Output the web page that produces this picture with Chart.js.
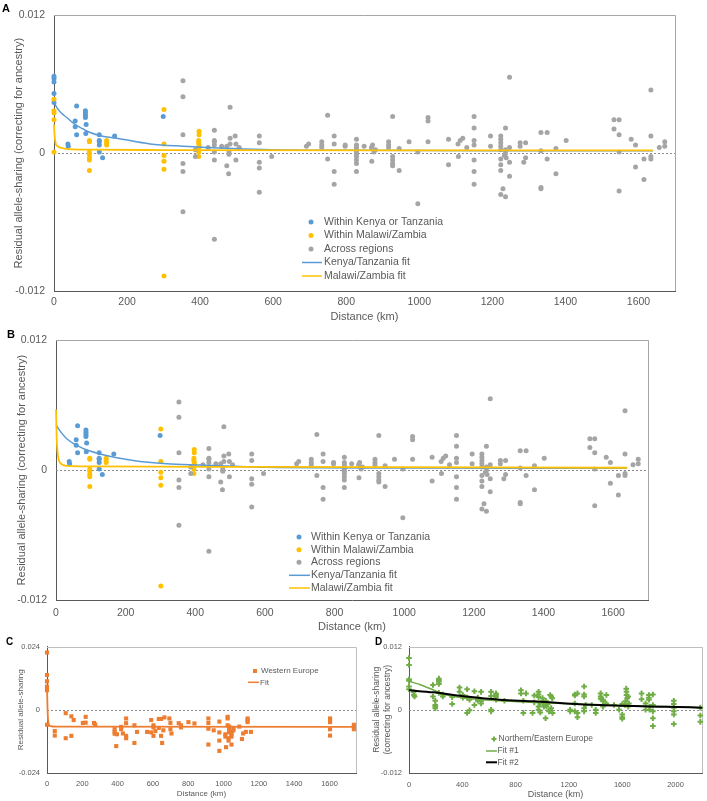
<!DOCTYPE html>
<html>
<head>
<meta charset="utf-8">
<script src="https://cdn.jsdelivr.net/npm/chart.js@4.4.1/dist/chart.umd.min.js"></script>
<style>
html,body{margin:0;padding:0;background:#fff;}
#wrap{position:relative;width:707px;height:801px;overflow:hidden;background:#fff;font-family:"Liberation Sans",Arial,sans-serif;}
canvas{position:absolute;}
.lbl{position:absolute;font-weight:bold;color:#000;line-height:1;}
</style>
</head>
<body>
<div id="wrap">
  <canvas id="cA" width="707" height="325" style="left:0;top:0"></canvas>
  <canvas id="cB" width="707" height="310" style="left:0;top:325px"></canvas>
  <canvas id="cC" width="360" height="166" style="left:0;top:635px"></canvas>
  <canvas id="cD" width="347" height="166" style="left:360px;top:635px"></canvas>
  <div class="lbl" style="left:2px;top:3px;font-size:11px">A</div>
  <div class="lbl" style="left:7px;top:329px;font-size:11px">B</div>
  <div class="lbl" style="left:6px;top:637px;font-size:10px">C</div>
  <div class="lbl" style="left:375px;top:637px;font-size:10px">D</div>
</div>
<script>
// ---------------- tick labels ----------------
const xTicksAB = [0, 200, 400, 600, 800, 1000, 1200, 1400, 1600];
const yTicksAB = [-0.012, 0, 0.012];
const xTicksC = [0, 200, 400, 600, 800, 1000, 1200, 1400, 1600];
const yTicksC = [-0.024, 0, 0.024];
const xTicksD = [0, 400, 800, 1200, 1600, 2000];
const yTicksD = [-0.012, 0, 0.012];

// ---------------- panels A/B: Africa ----------------
const kenyaTanzania = [
  [0,0.0067],[0,0.0065],[0,0.0062],[0,0.0052],[0,0.0044],
  [38,0.0008],[39,0.0006],[58,0.0028],[58,0.0023],[62,0.0016],[62,0.0041],
  [86,0.0037],[86,0.0035],[86,0.0033],[86,0.0031],[88,0.0025],[87,0.0017],
  [124,0.0016],[124,0.0011],[124,0.0010],[124,0.0007],[124,0.0001],[133,-0.0004],
  [166,0.0015],[299,0.0032]
];
const malawiZambia = [
  [0,0.0047],[0,0.0037],[0,0.0035],[0,0.0029],[0,0.0001],
  [97,0.0011],[97,0.0010],[97,0.0001],[97,-0.0001],[97,-0.0004],[97,-0.0006],[97,-0.0015],
  [144,0.0011],[144,0.0009],[144,0.0007],
  [301,0.0038],[301,0.0008],[301,-0.0002],[301,-0.0007],[301,-0.0014],[301,-0.0107],
  [397,0.0019],[397,0.0016],[396,0.0011],[396,0.0009],[397,0.0007],[397,0.0005],[396,0.0001],[396,-0.0003]
];
const acrossRegions = [
  [353,0.0063],[353,0.0049],[353,0.0016],[353,-0.0009],[353,-0.0016],[353,-0.0051],
  [387,0.0003],[387,-0.0003],[422,0.0005],
  [439,0.0020],[439,0.0011],[439,0.0010],[439,0.0007],[439,0.0001],[439,-0.0006],[439,-0.0075],
  [459,0.0006],[473,0.0006],[473,-0.0011],[479,0.0001],[479,-0.0001],
  [482,0.0040],[482,0.0013],[482,0.0008],[478,-0.0018],
  [496,0.0015],[498,0.0008],[498,-0.0006],[507,0.0005],
  [562,0.0015],[562,0.0009],[562,-0.0008],[562,-0.0013],[562,-0.0034],
  [596,-0.0003],[691,0.0006],[697,0.0008],
  [733,0.0010],[733,0.0007],[733,0.0005],[749,0.0033],[749,-0.0005],
  [767,0.0015],[767,0.0008],[767,-0.0016],[767,-0.0027],
  [797,0.0007],[797,0.0006],
  [828,0.0012],[828,0.0007],[828,0.0005],[828,0.0003],[828,0.0001],[828,-0.0001],[828,-0.0003],[828,-0.0006],[828,-0.0009],[828,-0.0016],
  [849,0.0006],[869,0.0005],[872,0.0007],[876,0.0001],[880,0.0003],[870,-0.0007],
  [916,0.0010],[916,0.0007],[916,0.0005],
  [927,0.0032],[927,-0.0003],[927,-0.0006],[927,-0.0009],[927,-0.0011],
  [945,0.0004],[945,-0.0015],[972,0.0010],[996,0.0001],[996,-0.0044],
  [1024,0.0031],[1024,0.0028],[1024,0.0010],[1080,0.0012],[1080,-0.0010],
  [1106,0.0008],[1112,0.0011],[1119,0.0013],[1107,-0.0003],[1130,0.0005],
  [1150,0.0032],[1150,0.0022],[1150,0.0011],[1150,0.0007],[1150,-0.0006],[1150,-0.0016],[1150,-0.0027],
  [1195,0.0015],[1195,0.0006],
  [1223,0.0015],[1223,0.0012],[1223,0.0009],[1223,0.0006],[1223,0.0003],[1223,-0.0005],[1223,-0.0010],[1223,-0.0015],[1223,-0.0036],
  [1229,-0.0031],[1236,0.0022],[1236,0.0003],[1236,0.0000],[1236,-0.0038],[1233,-0.0002],[1238,-0.0004],
  [1247,0.0066],[1247,0.0005],[1247,-0.0008],[1247,-0.0020],
  [1276,0.0009],[1276,0.0006],[1286,-0.0008],[1291,-0.0004],[1291,0.0009],
  [1333,0.0018],[1333,0.0002],[1333,-0.0030],[1333,-0.0031],[1350,0.0018],[1350,-0.0005],
  [1374,0.0004],[1374,-0.0018],[1402,0.0011],
  [1533,0.0029],[1533,0.0021],[1547,0.0029],[1547,0.0016],[1547,0.0001],[1547,-0.0033],
  [1580,0.0012],[1592,0.0007],[1592,-0.0012],[1615,-0.0005],[1615,-0.0023],
  [1634,0.0055],[1634,0.0015],[1634,-0.0003],[1634,-0.0005],
  [1657,0.0005],[1672,0.0010],[1672,0.0006]
];
// fitted curves
const kenyaFitA = [[0,0.0045],[7,0.0040],[20,0.0035],[35,0.0031],[57,0.0025],[80,0.0021],[99,0.0018],[130,0.0015],[172,0.0013],[263,0.0008],[354,0.0006],[491,0.0004],[594,0.0003],[800,0.00025],[1200,0.0002],[1640,0.0002]];
const malawiFitA = [[0,0.0025],[2,0.0014],[5,0.0008],[10,0.0006],[20,0.00045],[40,0.00035],[100,0.0003],[300,0.00027],[1000,0.00025],[1640,0.00025]];
const kenyaFitB = [[0,0.0042],[10,0.0037],[31,0.0029],[78,0.0020],[126,0.0015],[222,0.0009],[318,0.0006],[414,0.00048],[605,0.00027],[1000,0.0002],[1640,0.00018]];
const malawiFitB = [[0,0.0056],[2,0.0030],[4,0.0018],[11,0.0007],[31,0.0004],[100,0.00035],[600,0.0003],[1640,0.00022]];

// ---------------- panel C: Western Europe ----------------
const westernEurope = [
  [0,0.0217],[0,0.0132],[0,0.0108],[0,0.0088],[0,0.0083],[0,0.0074],[0,-0.0057],
  [44,-0.0081],[44,-0.0098],[106,-0.0013],[106,-0.0108],[138,-0.0025],[138,-0.0099],[151,-0.0039],
  [203,-0.0050],[219,-0.0027],[219,-0.0049],[266,-0.0050],[273,-0.0056],
  [383,-0.0074],[383,-0.0084],[383,-0.0091],[392,-0.0138],[396,-0.0093],[420,-0.0065],[420,-0.0074],[430,-0.0090],
  [448,-0.0033],[448,-0.0051],[448,-0.0099],[448,-0.0108],[495,-0.0059],[495,-0.0126],[510,-0.0084],
  [567,-0.0084],[590,-0.0039],[590,-0.0086],[603,-0.0059],[603,-0.0067],[603,-0.0099],[614,-0.0081],
  [633,-0.0035],[633,-0.0069],[646,-0.0035],[646,-0.0099],[652,-0.0126],[659,-0.0078],[665,-0.0029],
  [693,-0.0033],[699,-0.0050],[699,-0.0074],[705,-0.0090],[746,-0.0051],[759,-0.0059],[759,-0.0067],
  [801,-0.0047],[835,-0.0052],
  [914,-0.0033],[914,-0.0050],[914,-0.0072],[914,-0.0132],[944,-0.0078],
  [976,-0.0045],[976,-0.0086],[976,-0.0117],[976,-0.0156],
  [1010,-0.0093],[1010,-0.0102],[1014,-0.0142],[1023,-0.0027],[1023,-0.0033],[1023,-0.0059],
  [1028,-0.0108],[1028,-0.0117],[1032,-0.0064],[1032,-0.0072],[1032,-0.0081],[1032,-0.0086],
  [1045,-0.0084],[1045,-0.0093],[1045,-0.0102],[1045,-0.0132],[1056,-0.0069],[1056,-0.0078],
  [1089,-0.0064],[1104,-0.0111],[1111,-0.0090],[1126,-0.0084],
  [1136,-0.0033],[1136,-0.0039],[1136,-0.0047],[1155,-0.0084],
  [1603,-0.0033],[1603,-0.0039],[1603,-0.0047],[1603,-0.0074],[1603,-0.0098],
  [1738,-0.0057],[1738,-0.0064],[1738,-0.0074]
];
const westernFit = [[0,0.0090],[2,0.0030],[5,-0.0030],[10,-0.0055],[20,-0.0062],[50,-0.0064],[1750,-0.0065]];

// ---------------- panel D: Northern/Eastern Europe ----------------
const northEastEurope = [
  [0,0.0098],[0,0.0085],[0,0.0058],[0,0.0055],[0,0.0044],[0,0.0039],
  [35,0.0033],[37,0.0028],[42,0.0025],[180,0.0047],[180,0.0025],
  [197,0.0017],[197,0.0009],[197,0.0006],[197,0.0003],
  [224,0.0059],[224,0.0056],[224,0.0053],[224,0.0049],[224,0.0032],[254,0.0029],[254,0.0025],
  [324,0.0024],[324,0.0011],[379,0.0042],[379,0.0034],[404,0.0028],[404,0.0023],
  [436,0.0039],[436,0.0023],[436,-0.0006],[454,0.0019],[454,-0.0001],
  [491,0.0035],[491,0.0009],[516,0.0023],[516,0.0017],[541,0.0034],[541,0.0016],[541,0.0012],
  [616,0.0034],[616,0.0026],[616,0.0000],[616,-0.0003],
  [653,0.0031],[653,0.0028],[653,0.0024],[653,0.0019],[716,0.0017],
  [840,0.0037],[840,0.0031],[858,0.0017],[858,-0.0006],[878,0.0031],[927,-0.0006],
  [940,0.0027],[940,0.0014],[972,0.0034],[972,0.0029],[972,0.0024],[972,0.0006],[972,0.0000],
  [985,0.0012],[985,-0.0005],[1002,0.0022],[1007,0.0016],[1015,0.0012],[1020,0.0009],[1027,0.0017],
  [1032,0.0006],[1040,0.0011],[1012,0.0006],[1025,-0.0016],
  [1059,0.0028],[1067,0.0025],[1075,0.0022],[1067,0.0003],[1077,-0.0006],[1059,0.0000],[1050,-0.0003],
  [1209,0.0000],[1209,-0.0003],[1244,0.0029],[1244,0.0027],[1244,0.0012],[1244,-0.0003],
  [1264,0.0031],[1264,-0.0006],[1264,-0.0014],
  [1314,0.0044],[1314,0.0029],[1314,0.0025],[1314,0.0003],[1314,-0.0003],[1326,0.0009],[1371,0.0009],
  [1401,0.0000],[1401,-0.0006],[1438,0.0031],[1438,0.0025],[1438,0.0021],
  [1456,0.0019],[1456,0.0016],[1456,0.0006],[1481,0.0028],[1481,0.0012],[1538,0.0009],[1576,0.0000],
  [1600,0.0011],[1600,-0.0009],[1600,-0.0014],[1600,-0.0017],
  [1630,0.0040],[1632,0.0034],[1632,0.0028],[1637,0.0022],[1625,0.0016],[1620,0.0009],[1645,0.0025],[1650,0.0012],[1645,0.0006],
  [1745,0.0031],[1745,0.0020],[1775,0.0012],[1775,0.0000],
  [1800,0.0028],[1800,0.0023],[1800,0.0019],[1805,0.0006],[1805,0.0000],
  [1830,0.0029],[1830,0.0009],[1830,-0.0003],[1830,-0.0016],[1830,-0.0031],
  [1987,0.0017],[1987,0.0011],[1987,0.0004],[1987,-0.0003],[1987,-0.0009],[1987,-0.0027],
  [2186,0.0004],[2186,-0.0011],[2186,-0.0023]
];
const northFit1 = [[0,0.0054],[40,0.0051],[80,0.0048],[180,0.0038],[254,0.0030],[430,0.0022],[680,0.0017],[930,0.0014],[1430,0.0009],[1925,0.0006],[2200,0.0004]];
const northFit2 = [[0,0.0037],[180,0.0033],[430,0.0025],[680,0.0019],[930,0.0016],[1180,0.0012],[1430,0.0009],[1925,0.00056],[2200,0.0004]];

// ---------------- colours ----------------
const BLUE = '#5B9BD5', YELLOW = '#FFC000', GRAY = '#A5A5A5', ORANGE = '#ED7D31', GREEN = '#70AD47', BLACK = '#000000';
const TEXT = '#595959';

Chart.defaults.font.family = '"Liberation Sans", Arial, sans-serif';
Chart.defaults.color = TEXT;
Chart.defaults.animation = false;

const toXY = arr => arr.map(p => ({x: p[0], y: p[1]}));

// frame (top/right), dotted zero line, and in-plot legend
const panelPlugin = {
  id: 'panelDecor',
  beforeDatasetsDraw(chart, args, opts) {
    const {ctx, chartArea: a, scales} = chart;
    ctx.save();
    ctx.strokeStyle = opts.frameColor || '#A6A6A6';
    ctx.lineWidth = 1;
    ctx.beginPath();
    ctx.moveTo(a.left, Math.round(a.top) + 0.5);
    ctx.lineTo(Math.round(a.right) + 0.5, Math.round(a.top) + 0.5);
    ctx.lineTo(Math.round(a.right) + 0.5, a.bottom);
    ctx.stroke();
    const y0 = Math.round(scales.y.getPixelForValue(0)) + 0.5;
    ctx.strokeStyle = '#8C8C8C';
    ctx.setLineDash([2, 2]);
    ctx.beginPath();
    ctx.moveTo(a.left, y0);
    ctx.lineTo(a.right, y0);
    ctx.stroke();
    ctx.restore();
  },
  afterDraw(chart, args, opts) {
    const items = opts.items || [];
    const ctx = chart.ctx;
    ctx.save();
    ctx.font = (opts.fontSize || 10.5) + 'px "Liberation Sans", Arial, sans-serif';
    ctx.textBaseline = 'middle';
    ctx.textAlign = 'left';
    items.forEach(it => {
      ctx.fillStyle = it.color;
      ctx.strokeStyle = it.color;
      if (it.kind === 'line') {
        ctx.lineWidth = it.width || 1.5;
        ctx.beginPath();
        ctx.moveTo(it.x0, it.y);
        ctx.lineTo(it.x1, it.y);
        ctx.stroke();
      } else if (it.kind === 'circle') {
        ctx.beginPath();
        ctx.arc(it.mx, it.y, it.r, 0, Math.PI * 2);
        ctx.fill();
      } else if (it.kind === 'rect') {
        ctx.fillRect(it.mx - it.r, it.y - it.r, it.r * 2, it.r * 2);
      } else if (it.kind === 'cross') {
        ctx.lineWidth = 2;
        ctx.beginPath();
        ctx.moveTo(it.mx - it.r, it.y); ctx.lineTo(it.mx + it.r, it.y);
        ctx.moveTo(it.mx, it.y - it.r); ctx.lineTo(it.mx, it.y + it.r);
        ctx.stroke();
      }
      ctx.fillStyle = TEXT;
      ctx.fillText(it.text, it.tx, it.y);
    });
    ctx.restore();
  }
};

function axis(o) {
  return {
    type: 'linear', min: o.min, max: o.max,
    grid: {display: false, drawTicks: false},
    border: {display: true, color: '#595959', width: 1},
    ticks: {font: {size: o.tickFont}, padding: o.tickPad, color: TEXT, autoSkip: false, maxRotation: 0,
            callback: v => String(v)},
    title: {display: true, text: o.title, color: TEXT,
            font: {size: o.titleFont, lineHeight: o.lineHeight || 1.2},
            padding: o.titlePad},
    afterBuildTicks: s => { s.ticks = o.ticks.map(v => ({value: v})); },
    afterFit: s => { if (o.horizontal) s.height = o.size; else s.width = o.size; }
  };
}

function scatterSet(label, arr, color, order, style, r, bw) {
  return {label, data: toXY(arr), showLine: false, backgroundColor: color, borderColor: color,
          pointStyle: style || 'circle', pointRadius: r, pointBorderWidth: bw || 0, pointHoverRadius: r, order,
          clip: false};
}
function fitSet(label, arr, color, order, width) {
  return {label, data: toXY(arr), showLine: true, pointRadius: 0, borderColor: color, backgroundColor: color,
          borderWidth: width, cubicInterpolationMode: 'monotone', fill: false, order, clip: false};
}

const common = {responsive: false, animation: false, events: []};

// ---------------- Panel A ----------------
new Chart(document.getElementById('cA'), {
  type: 'scatter',
  data: {datasets: [
    fitSet('Malawi/Zambia fit', malawiFitA, YELLOW, 0, 1.8),
    fitSet('Kenya/Tanzania fit', kenyaFitA, BLUE, 1, 1.5),
    scatterSet('Across regions', acrossRegions, GRAY, 2, 'circle', 2.5),
    scatterSet('Within Malawi/Zambia', malawiZambia, YELLOW, 3, 'circle', 2.5),
    scatterSet('Within Kenya or Tanzania', kenyaTanzania, BLUE, 4, 'circle', 2.5)
  ]},
  options: Object.assign({}, common, {
    layout: {padding: {top: 9, right: 32, left: 0, bottom: 0}},
    scales: {
      x: axis({min: 0, max: 1700, ticks: xTicksAB, tickFont: 10.5, tickPad: 5, title: 'Distance (km)', titleFont: 11, titlePad: {top: 0, bottom: 1}, horizontal: true, size: 34}),
      y: axis({min: -0.012, max: 0.012, ticks: yTicksAB, tickFont: 10.5, tickPad: 9, title: 'Residual allele-sharing (correcting for ancestry)', titleFont: 11, titlePad: {top: 12.4, bottom: 0}, horizontal: false, size: 54})
    },
    plugins: {legend: {display: false}, tooltip: {enabled: false},
      panelDecor: {fontSize: 10.5, items: [
        {kind: 'circle', color: BLUE, mx: 311, r: 2.5, y: 222, tx: 324, text: 'Within Kenya or Tanzania'},
        {kind: 'circle', color: YELLOW, mx: 311, r: 2.5, y: 235.5, tx: 324, text: 'Within Malawi/Zambia'},
        {kind: 'circle', color: GRAY, mx: 311, r: 2.5, y: 249, tx: 324, text: 'Across regions'},
        {kind: 'line', color: BLUE, x0: 302, x1: 322, width: 1.5, y: 262.5, tx: 324, text: 'Kenya/Tanzania fit'},
        {kind: 'line', color: YELLOW, x0: 302, x1: 322, width: 1.5, y: 276, tx: 324, text: 'Malawi/Zambia fit'}
      ]}}
  }),
  plugins: [panelPlugin]
});

// ---------------- Panel B (same pairs, self-comparisons at 0 km excluded) ----------------
const nonZero = arr => arr.filter(p => p[0] > 0);
new Chart(document.getElementById('cB'), {
  type: 'scatter',
  data: {datasets: [
    fitSet('Malawi/Zambia fit', malawiFitB, YELLOW, 0, 1.8),
    fitSet('Kenya/Tanzania fit', kenyaFitB, BLUE, 1, 1.5),
    scatterSet('Across regions', acrossRegions, GRAY, 2, 'circle', 2.5),
    scatterSet('Within Malawi/Zambia', nonZero(malawiZambia), YELLOW, 3, 'circle', 2.5),
    scatterSet('Within Kenya or Tanzania', nonZero(kenyaTanzania), BLUE, 4, 'circle', 2.5)
  ]},
  options: Object.assign({}, common, {
    layout: {padding: {top: 9, right: 59, left: 0, bottom: 0}},
    scales: {
      x: axis({min: 0, max: 1700, ticks: xTicksAB, tickFont: 10.5, tickPad: 7, title: 'Distance (km)', titleFont: 11, titlePad: {top: 0, bottom: 1}, horizontal: true, size: 35}),
      y: axis({min: -0.012, max: 0.012, ticks: yTicksAB, tickFont: 10.5, tickPad: 9, title: 'Residual allele-sharing (correcting for ancestry)', titleFont: 11, titlePad: {top: 15.4, bottom: 0}, horizontal: false, size: 56})
    },
    plugins: {legend: {display: false}, tooltip: {enabled: false},
      panelDecor: {fontSize: 10.5, items: [
        {kind: 'circle', color: BLUE, mx: 299, r: 2.5, y: 212, tx: 311, text: 'Within Kenya or Tanzania'},
        {kind: 'circle', color: YELLOW, mx: 299, r: 2.5, y: 224.7, tx: 311, text: 'Within Malawi/Zambia'},
        {kind: 'circle', color: GRAY, mx: 299, r: 2.5, y: 237.3, tx: 311, text: 'Across regions'},
        {kind: 'line', color: BLUE, x0: 289, x1: 310, width: 1.5, y: 250.3, tx: 311, text: 'Kenya/Tanzania fit'},
        {kind: 'line', color: YELLOW, x0: 289, x1: 310, width: 1.5, y: 263, tx: 311, text: 'Malawi/Zambia fit'}
      ]}}
  }),
  plugins: [panelPlugin]
});

// ---------------- Panel C ----------------
new Chart(document.getElementById('cC'), {
  type: 'scatter',
  data: {datasets: [
    fitSet('Fit', westernFit, ORANGE, 0, 1.8),
    scatterSet('Western Europe', westernEurope, ORANGE, 1, 'rect', 2.9)
  ]},
  options: Object.assign({}, common, {
    layout: {padding: {top: 6, right: 4, left: 0, bottom: 0}},
    scales: {
      x: axis({min: 0, max: 1750, ticks: xTicksC, tickFont: 7.5, tickPad: 6.5, title: 'Distance (km)', titleFont: 8, titlePad: {top: 0, bottom: 2}, horizontal: true, size: 28}),
      y: axis({min: -0.024, max: 0.024, ticks: yTicksC, tickFont: 7.5, tickPad: 7, title: 'Residual allele-sharing', titleFont: 8, titlePad: {top: 16, bottom: 0}, horizontal: false, size: 47})
    },
    plugins: {legend: {display: false}, tooltip: {enabled: false},
      panelDecor: {fontSize: 8, frameColor: '#BFBFBF', items: [
        {kind: 'rect', color: ORANGE, mx: 255, r: 2, y: 36, tx: 261, text: 'Western Europe'},
        {kind: 'line', color: ORANGE, x0: 248, x1: 259, width: 1.5, y: 47.3, tx: 260, text: 'Fit'}
      ]}}
  }),
  plugins: [panelPlugin]
});

// ---------------- Panel D ----------------
new Chart(document.getElementById('cD'), {
  type: 'scatter',
  data: {datasets: [
    fitSet('Fit #2', northFit2, BLACK, 0, 2),
    fitSet('Fit #1', northFit1, GREEN, 1, 1.5),
    scatterSet('Northern/Eastern Europe', northEastEurope, GREEN, 2, 'cross', 2.8, 2)
  ]},
  options: Object.assign({}, common, {
    layout: {padding: {top: 9, right: 2, left: 0, bottom: 0}},
    scales: {
      x: axis({min: 0, max: 2200, ticks: xTicksD, tickFont: 7.5, tickPad: 7.5, title: 'Distance (km)', titleFont: 9, titlePad: {top: 0, bottom: 0.6}, horizontal: true, size: 28}),
      y: axis({min: -0.012, max: 0.012, ticks: yTicksD, tickFont: 7.5, tickPad: 7, title: ['Residual allele-sharing', '(correcting for ancestry)'], titleFont: 8.5, lineHeight: 1.3, titlePad: {top: 11.5, bottom: 0}, horizontal: false, size: 49})
    },
    plugins: {legend: {display: false}, tooltip: {enabled: false},
      panelDecor: {fontSize: 8.5, frameColor: '#BFBFBF', items: [
        {kind: 'cross', color: GREEN, mx: 134, r: 2.5, y: 104, tx: 138.5, text: 'Northern/Eastern Europe'},
        {kind: 'line', color: GREEN, x0: 126, x1: 137, width: 1.5, y: 116, tx: 137.5, text: 'Fit #1'},
        {kind: 'line', color: BLACK, x0: 126, x1: 137, width: 2, y: 127.3, tx: 137.5, text: 'Fit #2'}
      ]}}
  }),
  plugins: [panelPlugin]
});
</script>
</body>
</html>
